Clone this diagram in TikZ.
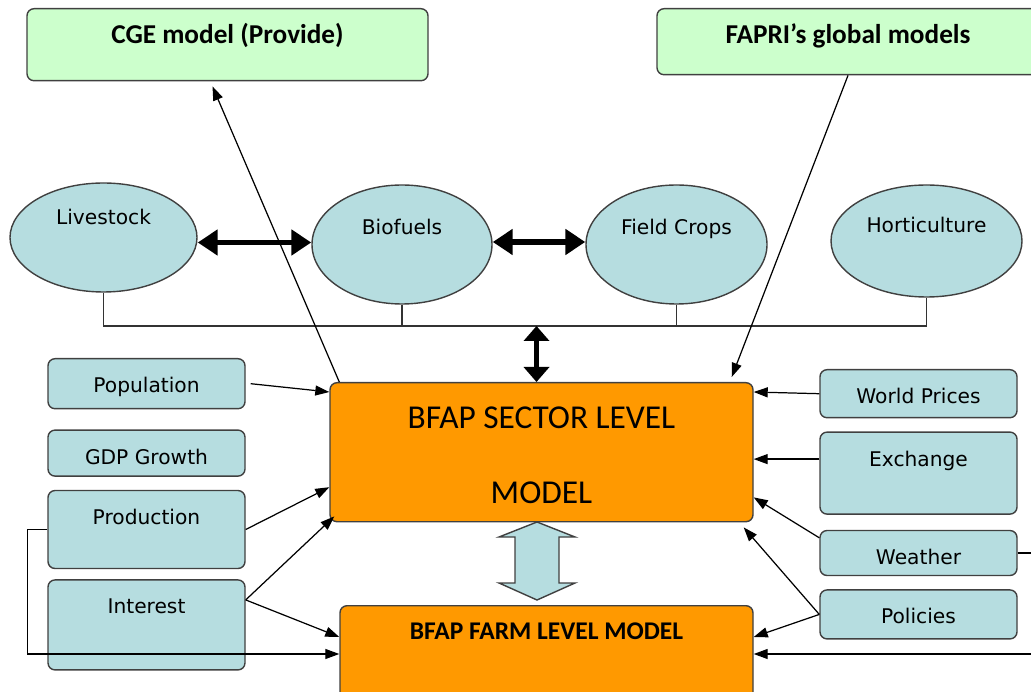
\documentclass[tikz,border=0pt]{standalone}
\usepackage{fontspec}
\setmainfont{DejaVu Sans}
\newfontfamily\calfont{Carlito}
\usetikzlibrary{arrows.meta,positioning,shapes.geometric}
\definecolor{mint}{HTML}{CCFFCC}
\definecolor{aqua}{HTML}{B6DDE0}
\definecolor{amber}{HTML}{FF9900}
\definecolor{edge}{HTML}{404040}
\tikzset{box/.style={draw=edge,line width=.8pt,fill=aqua,rounded corners=4pt,anchor=north,minimum width=3.94cm,inner sep=0,text height=.68cm,font=\fontsize{11.5}{14}\selectfont}, blob/.style={ellipse,draw=edge,line width=.8pt,fill=aqua,inner sep=0,text height=.3cm,font=\fontsize{11.5}{14}\selectfont}, model/.style={box,fill=mint,text height=.7cm,font=\calfont\bfseries\fontsize{15.5}{18}\selectfont}, core/.style={box,fill=amber}, feed/.style={-{Triangle[length=2.8mm,width=2mm]},line width=.7pt}, link/.style={{Triangle[length=4mm,width=5mm]}-{Triangle[length=4mm,width=5mm]},line width=3pt}, vlink/.style={{Triangle[length=3mm,width=5mm]}-{Triangle[length=3mm,width=5mm]},line width=2.5pt}, bus/.style={draw=black!80,line width=.7pt}, twin/.style={draw=edge,fill=aqua,line width=.8pt}}
\begin{document}
\begin{tikzpicture}
\useasboundingbox (0,0) rectangle (20.62,-13.84);
\node[model,minimum width=8.02cm,text depth=.74cm] (cge) at (4.55,-.16) {CGE model (Provide)};
\node[model,minimum width=7.64cm,text depth=.62cm] (fapri) at (16.96,-.16) {FAPRI’s global models};
\node[blob,minimum width=3.74cm,minimum height=2.18cm,text depth=.8cm] (live) at (2.07,-4.75) {Livestock};
\node[blob,minimum width=3.6cm,minimum height=2.38cm,text depth=.68cm] (bio) at (8.04,-4.89) {Biofuels};
\node[blob,minimum width=3.62cm,minimum height=2.38cm,text depth=.68cm] (crop) at (13.53,-4.89) {Field Crops};
\node[blob,minimum width=3.82cm,minimum height=2.24cm,text depth=.62cm] (hort) at (18.53,-4.82) {Horticulture};
\node[core,minimum width=8.46cm,text height=2.42cm,text depth=.36cm,align=center,font=\calfont\fontsize{19}{42.7}\selectfont] (sector) at (10.83,-7.64) {BFAP SECTOR LEVEL\\MODEL};
\node[core,minimum width=8.26cm,text depth=1.2cm,font=\calfont\bfseries\fontsize{14.5}{18}\selectfont] (farm) at (10.93,-12.1) {BFAP FARM LEVEL MODEL};
\node[box,text depth=.32cm] (pop) at (2.93,-7.16) {Population};
\node[box,text depth=.24cm,below=4mm of pop] (gdp) {GDP Growth};
\node[box,text depth=.88cm,below=2.6mm of gdp] (prod) {Production};
\node[box,text depth=1.12cm,below=2mm of prod] (int) {Interest};
\node[box,text depth=.28cm] (wp) at (18.37,-7.38) {World Prices};
\node[box,text depth=.96cm,below=2.6mm of wp] (exch) {Exchange};
\node[box,text depth=.22cm,below=3mm of exch] (wea) {Weather};
\node[box,text depth=.3cm,below=2.6mm of wea] (pol) {Policies};
\coordinate (bus) at (0,-6.52);
\draw[bus] (live.south) -- (live.south|-bus) -| (hort.south) (bio.south) -- (bio.south|-bus) (crop.south) -- (crop.south|-bus);
\draw[link] ([yshift=-.1cm]live.east) -- ([yshift=-.1cm]live.east-|bio.west);\draw[link] ([yshift=.05cm]bio.east) -- ([yshift=.05cm]crop.west);
\draw[vlink] ([xshift=-.1cm]sector.north|-bus) -- ([xshift=-.1cm]sector.north);
\draw[twin] (10.74,-10.44) -- ++(.76,-.3) -- ++(-.32,0) -- ++(0,-.92) -- ++(.32,0) -- (10.74,-12) -- ++(-.76,.34) -- ++(.32,0) -- ++(0,.92) -- ++(-.32,0) -- cycle;
\draw[feed] ([xshift=2mm]sector.north west) -- ([xshift=-3mm,yshift=-1mm]cge.south);
\draw[feed] (fapri.south) -- ([xshift=-4.4mm,yshift=1mm]sector.north east);
\draw[feed] ([xshift=1mm]pop.east) -- ([yshift=-2mm]sector.north west);
\draw[feed] (prod.east) -- ([yshift=-7mm]sector.west);
\draw[feed] ([yshift=5mm]int.east) -- ([xshift=1mm,yshift=1.2mm]sector.south west);\draw[feed] ([yshift=5mm]int.east) -- ([yshift=-6.4mm]farm.north west);
\draw[feed] (prod.west) -- ++(-.4,0) |- ([yshift=-9.8mm]farm.north west);
\draw[feed] (wp.west) -- ([yshift=-2mm]sector.north east);
\draw[feed] ([yshift=2.8mm]exch.west) -- ([yshift=2.8mm]exch.west-|sector.east);
\draw[feed] ([yshift=-1.6mm]wea.north west) -- ([yshift=5mm]sector.south east);
\draw[feed] (pol.west) -- ([xshift=-2mm,yshift=-1mm]sector.south east);\draw[feed] (pol.west) -- ([yshift=-6.4mm]farm.north east);
\draw[feed] (wea.east) -- ++(.6,0) |- ([yshift=-9.8mm]farm.north east);
\end{tikzpicture}
\end{document}
